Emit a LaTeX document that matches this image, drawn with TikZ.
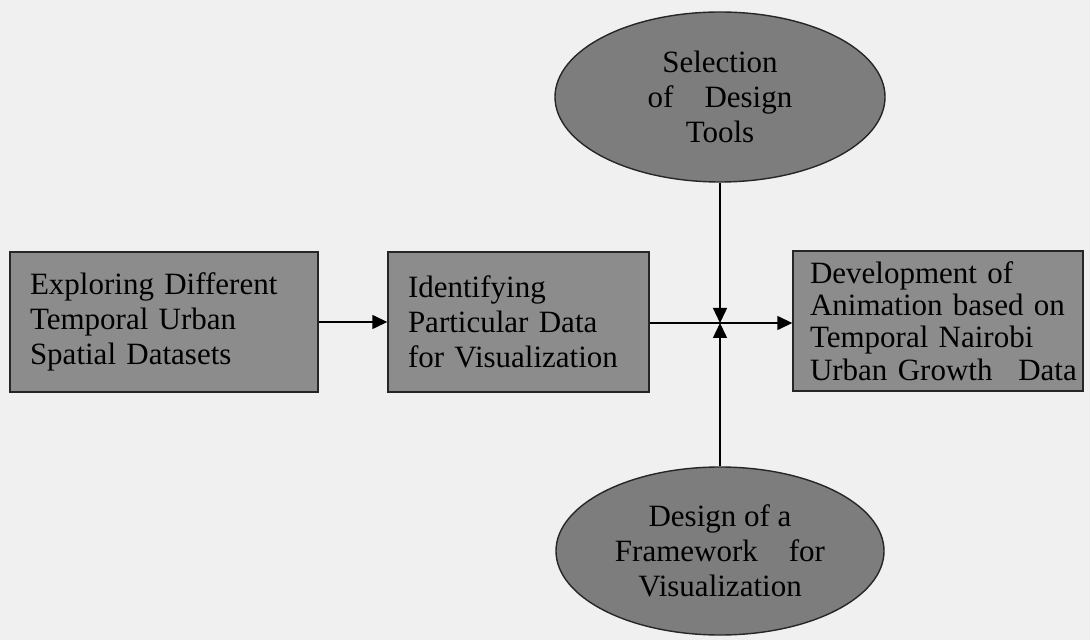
\documentclass[tikz,border=0pt]{standalone}
\usepackage{fontspec}
\setmainfont{Liberation Serif}
\usetikzlibrary{shapes.geometric,arrows.meta,positioning}
\definecolor{paper}{gray}{0.94}
\definecolor{boxgrey}{gray}{0.55}
\definecolor{ovalgrey}{gray}{0.49}
\tikzstyle{stagebox}=[draw=black!85,fill=boxgrey,line width=0.7pt,minimum height=70pt,inner xsep=10pt,inner ysep=0pt,align=left,font=\fontsize{15.5}{17.5}\selectfont]
\tikzstyle{stageoval}=[ellipse,draw=black!85,fill=ovalgrey,line width=0.7pt,align=center,inner sep=0pt,font=\fontsize{15.5}{17.5}\selectfont]
\tikzstyle{link}=[line width=0.7pt,-{Triangle[length=7.5pt,width=7pt]}]

\begin{document}
\begin{tikzpicture}[x=0.5pt,y=-0.5pt]
	% page background
	\fill[paper] (0,0) rectangle (1090,640);
	\useasboundingbox (0,0) rectangle (1090,640);
	% the three stages
	\node[stagebox,text width=134pt] (explore) at (164,322) {Exploring Different\\Temporal Urban\\Spatial Datasets};
	\node[stagebox,text width=110.5pt] (identify) at (518.5,322) {Identifying\\Particular Data\\for Visualization};
	\node[stagebox,text width=128pt,inner xsep=8.5pt,font=\fontsize{15.5}{16.2}\selectfont] (develop) at (938,321) {Development of\\Animation based on\\Temporal Nairobi\\\mbox{Urban Growth\enspace\ Data}};
	% inputs from above and below
	\node[stageoval,minimum width=165pt,minimum height=85pt] (tools) at (720,97) {Selection\\of\quad Design\\Tools};
	\node[stageoval,minimum width=164pt,minimum height=84pt] (frame) at (720,551) {Design of a\\Framework\quad for\\Visualization};
	\coordinate (meet) at (720,323);
	% connectors
	\draw[link] (explore) -- (identify);
	\draw[link] (identify.east |- meet) -- (develop.west |- meet);
	\draw[link] (tools.south) -- (meet);
	\draw[link] (frame.north) -- (meet);
\end{tikzpicture}
\end{document}
